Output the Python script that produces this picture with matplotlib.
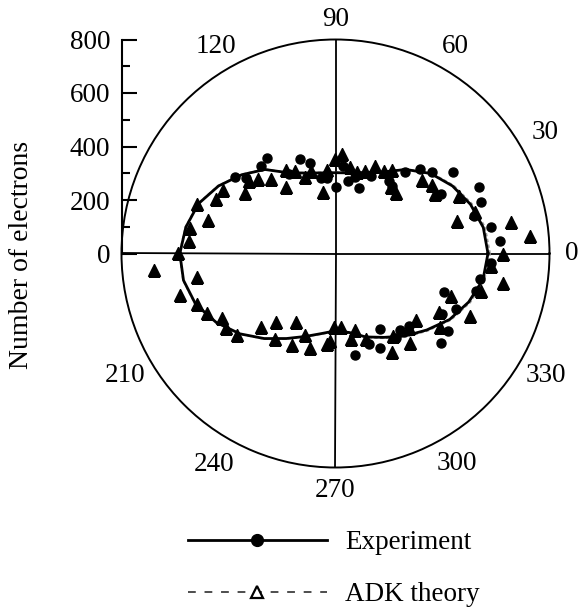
import numpy as np
import matplotlib
matplotlib.use("Agg")
import matplotlib.pyplot as plt
from matplotlib.lines import Line2D

plt.rcParams['font.family'] = ['Liberation Serif', 'DejaVu Serif']
FS = 19.5

# Measured electron counts: angle (deg), number of electrons
exp_angle = [140.0, 142.7, 130.4, 125.4, 120.2, 110.6, 106.0, 100.7, 96.6, 90.0,
             84.8, 80.2, 75.3, 70.2, 65.3, 53.8, 50.2, 49.5, 44.9, 40.2,
             34.8, 29.6, 25.0, 19.6, 15.0, 9.7, 4.5, 356.6, 350.1, 345.0,
             340.3, 335.4, 330.4, 325.3, 319.7, 315.4, 310.2, 305.5, 300.6, 295.4,
             290.4, 280.8]
exp_count = [437, 474, 430, 439, 344, 376, 351, 287, 284, 248,
             327, 274, 294, 260, 318, 337, 329, 401, 447, 470,
             537, 452, 590, 579, 537, 588, 615, 583, 550, 542,
             431, 494, 459, 510, 518, 385, 374, 389, 326, 390,
             360, 388]

# ADK theory values
adk_angle = [185.1, 180.0, 175.0, 170.0, 160.2, 165.2, 155.3, 150.4, 146.0, 140.3,
             136.0, 130.9, 126.4, 120.9, 116.3, 111.7, 106.3, 101.2, 95.8, 90.6,
             86.0, 80.5, 75.5, 70.3, 65.6, 59.5, 55.7, 50.4, 45.0, 40.3,
             35.3, 30.8, 25.1, 15.0, 16.4, 10.3, 5.1, 0.0, 355.4, 350.1,
             345.5, 339.8, 335.1, 330.6, 324.9, 320.4, 314.7, 309.8, 304.8, 299.7,
             289.6, 284.5, 280.0, 274.4, 269.2, 266.1, 264.8, 254.7, 249.2, 244.8,
             239.9, 234.6, 229.1, 224.5, 219.5, 214.4, 209.6, 204.8, 200.0, 194.8,
             189.7]
adk_count = [683, 587, 548, 551, 550, 494, 492, 484, 406, 422,
             402, 370, 311, 362, 345, 308, 322, 236, 314, 352,
             371, 327, 316, 329, 361, 359, 378, 325, 319, 426,
             442, 433, 509, 471, 543, 668, 731, 625, 585, 636,
             560, 461, 555, 444, 478, 390, 391, 435, 376, 424,
             340, 297, 325, 275, 275, 327, 338, 368, 324, 378,
             297, 392, 340, 393, 477, 496, 489, 530, 550, 601,
             525]

# Smooth curves through the two data sets, every 10 degrees
curve_angle = list(range(0, 361, 10))
exp_fit = [570, 561, 537, 505, 465, 410, 352, 322, 306, 302,
           306, 320, 348, 410, 458, 505, 545, 568, 582, 577,
           556, 515, 467, 415, 367, 330, 304, 289, 300, 332,
           362, 403, 445, 493, 530, 560, 570]
adk_fit = [578, 568, 543, 510, 468, 412, 354, 324, 308, 304,
           308, 322, 350, 412, 460, 507, 547, 570, 584, 579,
           558, 517, 469, 417, 369, 332, 306, 292, 302, 335,
           366, 408, 450, 498, 536, 566, 578]

r_max = 800
r_ticks = [0, 200, 400, 600, 800]
r_minor = [100, 300, 500, 700]
angle_labels = [0, 30, 60, 90, 120, 210, 240, 270, 300, 330]
label_radius = [885, 905, 895, 875, 895, 910, 910, 885, 905, 910]

W, H = 581, 610
fig = plt.figure(figsize=(W / 100, H / 100), dpi=100)

cx, cy, rad = 335.5, 253.5, 214.0
ax = fig.add_axes([(cx - rad) / W, (H - cy - rad) / H, 2 * rad / W, 2 * rad / H],
                  projection='polar')
ax.set_ylim(0, r_max)
ax.set_yticks([])
ax.set_xticks(np.deg2rad([0, 90, 180, 270]))
ax.set_xticklabels([])
ax.xaxis.grid(True, color='black', lw=1.3)
ax.yaxis.grid(False)
ax.spines['polar'].set_linewidth(1.4)
ax.tick_params(axis='x', length=0)

th = np.deg2rad(curve_angle)
ax.plot(th, adk_fit, color='0.6', lw=1.2, dashes=(2, 1.5), zorder=2)
ax.plot(th, exp_fit, color='black', lw=2.0, zorder=3)
ax.plot(np.deg2rad(adk_angle), adk_count, ls='none', marker='^', ms=8,
        color='black', zorder=5)
ax.plot(np.deg2rad(exp_angle), exp_count, ls='none', marker='o', ms=6.5,
        color='black', zorder=6)

for a, rl in zip(angle_labels, label_radius):
    ax.text(np.deg2rad(a), rl, str(a), ha='center', va='center', fontsize=FS)

# radial scale on the left
axr = fig.add_axes([(cx - rad) / W, (H - cy) / H, 0.001, rad / H])
axr.patch.set_visible(False)
for s in ('right', 'top', 'bottom'):
    axr.spines[s].set_visible(False)
axr.spines['left'].set_linewidth(1.5)
axr.set_ylim(0, r_max)
axr.set_xticks([])
axr.set_yticks(r_ticks)
axr.set_yticks(r_minor, minor=True)
axr.tick_params(axis='y', which='major', direction='in', length=11, width=1.5,
                labelsize=FS, pad=8)
axr.tick_params(axis='y', which='minor', direction='in', length=6, width=1.5)

fig.text(22 / W, 1 - 255 / H, 'Number of electrons', rotation=90,
         ha='center', va='center', fontsize=20)

h_exp = Line2D([], [], color='black', lw=2.0, marker='o', ms=8.5)
h_adk = Line2D([], [], color='0.3', lw=1.4, dashes=(4, 4.5), marker='^', ms=8,
               markerfacecolor='white', markeredgecolor='black', markeredgewidth=1.6)
fig.legend(handles=[h_exp, h_adk], labels=['Experiment', 'ADK theory'],
           loc='upper left', bbox_to_anchor=(188 / W, 1 - 530 / H),
           frameon=False, fontsize=FS, handlelength=5.13, handletextpad=0.66,
           borderpad=0, borderaxespad=0, labelspacing=1.0, numpoints=1)

fig.savefig('out.png', dpi=100)
